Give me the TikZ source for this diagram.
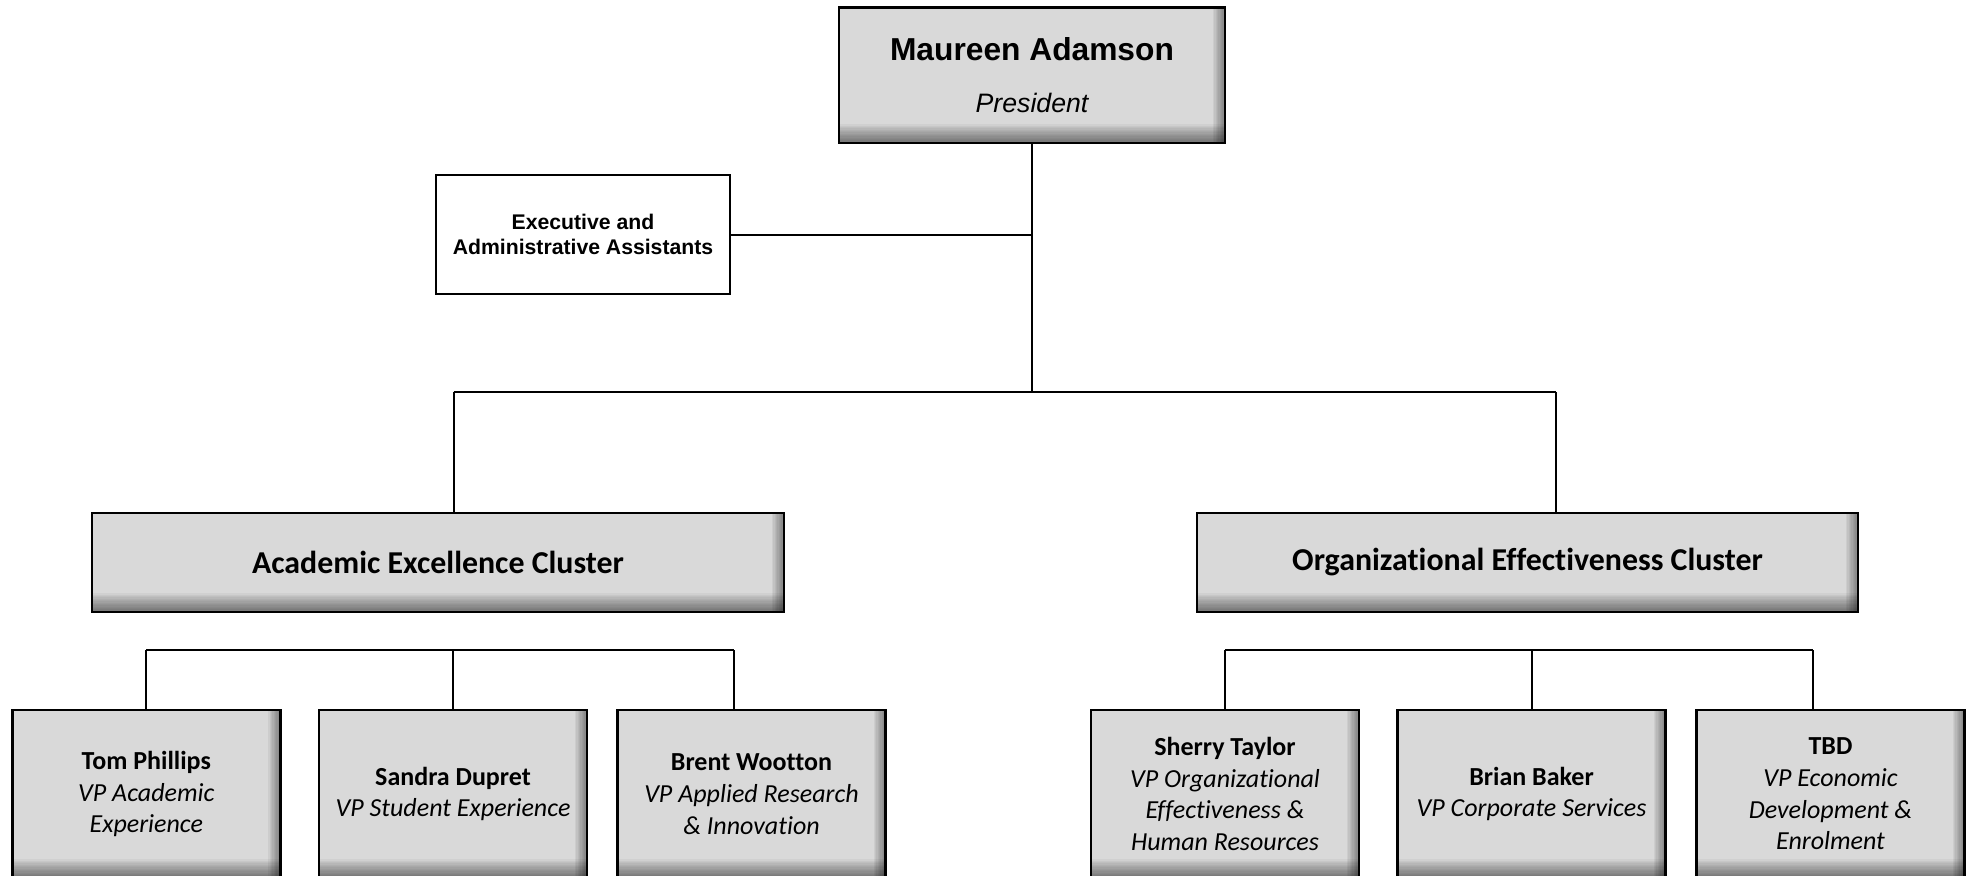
\documentclass[tikz,border=0pt]{standalone}
\usepackage{fontspec}
\setmainfont{Carlito}[Ligatures=NoCommon]
\newfontfamily\arialf{Liberation Sans}
\definecolor{boxgray}{HTML}{D9D9D9}
\tikzset{
  conn/.style={line width=1.5pt, black},
  shadedbox/.style={rectangle, fill=boxgray, draw=black, line width=1.8pt, inner sep=0pt, align=center,
    path picture={
      \foreach \i in {1,...,9}
        \fill[black, opacity=0.05]
          ([xshift=-\i pt]path picture bounding box.south east) rectangle (path picture bounding box.north east);
      \foreach \i in {1,...,14}
        \fill[black, opacity=0.04]
          (path picture bounding box.south west) rectangle ([yshift=\i pt]path picture bounding box.south east);
    }},
  presbox/.style={shadedbox, minimum width=289.5pt, minimum height=101.6pt},
  execbox/.style={rectangle, fill=white, draw=black, line width=1.5pt, align=center, inner sep=0pt,
    minimum width=220.5pt, minimum height=89.25pt, font=\arialf\bfseries\fontsize{15.9pt}{18.75pt}\selectfont},
  clusterbox/.style={shadedbox, minimum height=74.25pt, font=\bfseries\fontsize{23.9pt}{28pt}\selectfont},
  vpbox/.style={shadedbox, minimum width=201pt, minimum height=126pt, font=\fontsize{19.5pt}{23.8pt}\selectfont},
}
\begin{document}
\begin{tikzpicture}[x=0.75pt,y=-0.75pt]
\useasboundingbox (0,0) rectangle (1970,875);

% nodes
\node[presbox] (pres) at (1032,75.3) {{\arialf\bfseries\fontsize{23.8pt}{28pt}\selectfont Maureen Adamson}\\[23pt]
  {\arialf\itshape\fontsize{20pt}{24pt}\selectfont President}};
\node[execbox] (exec) at (583,234.5) {Executive and\\Administrative Assistants};
\node[clusterbox, minimum width=519pt] (acad) at (438,562.5) {Academic Excellence Cluster};
\node[clusterbox, minimum width=495.75pt] (org) at (1527.5,562.5) {Organizational Effectiveness Cluster};

\node[vpbox] (tom) at (146.3,794) {\textbf{Tom Phillips}\\\textit{VP Academic}\\\textit{Experience}};
\node[vpbox] (sandra) at (453,794) {\textbf{Sandra Dupret}\\\textit{VP Student Experience}};
\node[vpbox] (brent) at (751.5,794) {\textbf{Brent Wootton}\\\textit{VP Applied Research}\\\textit{\& Innovation}};
\node[vpbox] (sherry) at (1225,794) {\textbf{Sherry Taylor}\\\textit{VP Organizational}\\\textit{Effectiveness \&}\\\textit{Human Resources}};
\node[vpbox] (brian) at (1531.5,794) {\textbf{Brian Baker}\\\textit{VP Corporate Services}};
\node[vpbox] (tbd) at (1830.5,794) {\textbf{TBD}\\\textit{VP Economic}\\\textit{Development \&}\\\textit{Enrolment}};

% connector coordinates
\coordinate (trunk) at (1032,392);
\coordinate (hl) at (453.6,392);
\coordinate (hr) at (1555.5,392);
\coordinate (lb1) at (146.3,650);
\coordinate (lb2) at (453,650);
\coordinate (lb3) at (734,650);
\coordinate (rb1) at (1225,650);
\coordinate (rb2) at (1531.5,650);
\coordinate (rb3) at (1813,650);

% connectors
\draw[conn] (pres.south) -- (trunk);
\draw[conn] (exec.east) -- (exec.east -| pres.south);
\draw[conn] (hl) -- (hr);
\draw[conn] (hl) -- (hl |- acad.north);
\draw[conn] (hr) -- (hr |- org.north);

\draw[conn] (lb1) -- (lb3);
\draw[conn] (lb1) -- (tom.north);
\draw[conn] (lb2) -- (sandra.north);
\draw[conn] (lb3) -- (lb3 |- brent.north);

\draw[conn] (rb1) -- (rb3);
\draw[conn] (rb1) -- (sherry.north);
\draw[conn] (rb2) -- (brian.north);
\draw[conn] (rb3) -- (rb3 |- tbd.north);
\end{tikzpicture}
\end{document}
